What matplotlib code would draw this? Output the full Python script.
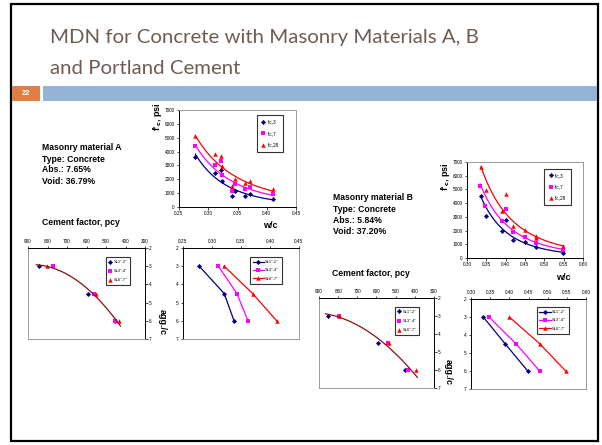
import numpy as np
import matplotlib
matplotlib.use("Agg")
import matplotlib.pyplot as plt
from matplotlib.patches import Rectangle
from matplotlib.lines import Line2D

W, H = 602, 445

# ---------------- data ----------------
series_names = ["f'c,3", "f'c,7", "f'c,28"]
slump_names = ['SL1"-2"', 'SL3"-4"', 'SL6"-7"']

# Material A : strength vs w/c
a_wc = [0.278, 0.312, 0.322, 0.323, 0.340, 0.345, 0.363, 0.371, 0.411]
a_fc3 = [3600, 2450, 2640, 1850, 815, 1175, 815, 960, 600]
a_fc7 = [4410, 3045, 3285, 2300, 1130, 1680, 1295, 1440, 935]
a_fc28 = [5130, 3840, 3690, 2975, 1490, 2040, 1730, 1850, 1295]

# Material B : strength vs w/c
b_wc3 = [0.336, 0.350, 0.390, 0.401, 0.419, 0.449, 0.479, 0.547]
b_fc3 = [4550, 3040, 1995, 2800, 1340, 1190, 780, 390]
b_wc7 = [0.334, 0.347, 0.390, 0.401, 0.419, 0.449, 0.479, 0.547]
b_fc7 = [5230, 3820, 2725, 3600, 1875, 1510, 1095, 585]
b_wc28 = [0.336, 0.350, 0.390, 0.401, 0.419, 0.449, 0.479, 0.479, 0.547]
b_fc28 = [6640, 4940, 3400, 4700, 2310, 2070, 1630, 1460, 850]

# agg./c levels
agg = [3, 4.5, 6]

# Material A : cement factor & w/c per slump
a_cf = [[845, 594, 456], [772, 562, 452], [801, 550, 434]]
a_wcs = [[0.278, 0.321, 0.338], [0.311, 0.343, 0.362], [0.321, 0.370, 0.4115]]

# Material B : cement factor & w/c per slump
b_cf = [[854, 591, 453], [795, 540, 436], [795, 533, 395]]
b_wcs = [[0.332, 0.3895, 0.448], [0.347, 0.418, 0.479], [0.400, 0.480, 0.547]]

colors = ["#000080", "#ff00ff", "#ff0000"]
markers = ["D", "s", "^"]
msizes = [2.6, 3.0, 3.2]
trend_col = "#8b1010"

fig = plt.figure(figsize=(W / 100, H / 100), dpi=100)
fig.patch.set_facecolor("white")


def px_axes(x0, y0, x1, y1):
    return fig.add_axes([x0 / W, 1 - y1 / H, (x1 - x0) / W, (y1 - y0) / H])


def ftext(x, y, s, **kw):
    fig.text(x / W, 1 - y / H, s, **kw)


# ---------- slide decoration ----------
fig.patches.append(Rectangle((11 / W, 1 - 441 / H), (598 - 11) / W, (441 - 4) / H,
                             transform=fig.transFigure, fill=False,
                             edgecolor="black", lw=1.6))
fig.patches.append(Rectangle((12 / W, 1 - 101 / H), 28 / W, 15 / H,
                             transform=fig.transFigure, color="#e07f45", lw=0))
fig.patches.append(Rectangle((43 / W, 1 - 101 / H), (597 - 43) / W, 15 / H,
                             transform=fig.transFigure, color="#93b4d4", lw=0))
ftext(26, 93.5, "22", color="white", fontsize=5.5, fontweight="bold",
      ha="center", va="center", family="Liberation Sans")
ftext(50, 38, "MDN for Concrete with Masonry Materials A, B", color="#6e5c52",
      fontsize=14.7, va="center", family="Lato")
ftext(50, 68, "and Portland Cement", color="#6e5c52",
      fontsize=14.7, va="center", family="Lato")

txt_kw = dict(fontsize=6.2, fontweight="bold", family="Liberation Sans", va="center")
for i, s in enumerate(["Masonry material A", "Type: Concrete", "Abs.: 7.65%", "Void: 36.79%"]):
    ftext(42, 148 + 11 * i, s, **txt_kw)
for i, s in enumerate(["Masonry material B", "Type: Concrete", "Abs.: 5.84%", "Void: 37.20%"]):
    ftext(333, 198 + 11.3 * i, s, **txt_kw)
ftext(42, 222, "Cement factor, pcy", **txt_kw)
ftext(332, 274, "Cement factor, pcy", **txt_kw)

lab_kw = dict(fontsize=6.5, fontweight="bold", family="Liberation Sans")


def style(ax, frame_sides, axis_sides):
    for s in ["left", "right", "top", "bottom"]:
        sp = ax.spines[s]
        if s in axis_sides:
            sp.set_color("black"); sp.set_linewidth(0.7)
        elif s in frame_sides:
            sp.set_color("#9a9a9a"); sp.set_linewidth(0.7)
        else:
            sp.set_visible(False)
    ax.tick_params(labelsize=3.4, length=1.8, width=0.5, pad=1.2, direction="out")
    for lbl in ax.get_xticklabels() + ax.get_yticklabels():
        lbl.set_family("Liberation Sans")


def strength_chart(ax, xs_list, ys_list, xlim, xticks):
    for xs, ys, c, m, ms, name in zip(xs_list, ys_list, colors, markers, msizes, series_names):
        xs = np.array(xs); ys = np.array(ys)
        ax.plot(xs, ys, ls="none", marker=m, color=c, ms=ms, mew=0, label=name)
        b, a = np.polyfit(np.log(xs), np.log(ys), 1)
        xx = np.linspace(xs.min(), xs.max(), 100)
        ax.plot(xx, np.exp(a) * xx ** b, color=c, lw=0.9)
    ax.set_xlim(*xlim)
    ax.set_ylim(0, 7000)
    ax.set_xticks(xticks)
    ax.set_xticklabels([f"{t:.2f}" for t in xticks])
    ax.set_yticks(range(0, 7001, 1000))
    style(ax, ["top", "right"], ["left", "bottom"])


def legend(ax, handles, labels, x, y, fs=3.2, hl=1.0, ls=1.2, bp=0.8):
    lg = ax.legend(handles, labels, loc="upper left", bbox_to_anchor=(x, y),
                   fontsize=fs, frameon=True, fancybox=False, edgecolor="black",
                   handlelength=hl, handletextpad=0.4, borderpad=bp,
                   labelspacing=ls, borderaxespad=0)
    lg.get_frame().set_linewidth(0.8)
    for t in lg.get_texts():
        t.set_family("Liberation Sans")


# ---------- chart 1: A strength ----------
ax1 = px_axes(179, 110, 296, 207)
strength_chart(ax1, [a_wc] * 3, [a_fc3, a_fc7, a_fc28], (0.25, 0.45),
               [0.25, 0.30, 0.35, 0.40, 0.45])
h = [Line2D([], [], ls="none", marker=m, color=c, ms=ms, mew=0) for c, m, ms in zip(colors, markers, msizes)]
legend(ax1, h, series_names, 0.665, 0.945, fs=3.4, hl=1.0, ls=1.35, bp=0.9)
ftext(157, 117, "f'$_\\mathbf{c}$, psi", rotation=90, ha="center", va="center", **lab_kw)
ftext(270, 225, "w/c", ha="center", va="center", **lab_kw)

# ---------- chart 2: B strength ----------
ax2 = px_axes(467, 162, 583, 258)
strength_chart(ax2, [b_wc3, b_wc7, b_wc28], [b_fc3, b_fc7, b_fc28], (0.30, 0.60),
               [0.30, 0.35, 0.40, 0.45, 0.50, 0.55, 0.60])
legend(ax2, h, series_names, 0.665, 0.93, fs=3.4, hl=1.0, ls=1.35, bp=0.9)
ftext(445, 177, "f'$_\\mathbf{c}$, psi", rotation=90, ha="center", va="center", **lab_kw)
ftext(563, 278, "w/c", ha="center", va="center", **lab_kw)


# ---------- cement factor charts ----------
def cement_chart(ax, cf):
    allx, ally = [], []
    for xs, c, m, ms, name in zip(cf, colors, markers, msizes, slump_names):
        ax.plot(xs, agg, ls="none", marker=m, color=c, ms=ms, mew=0, label=name)
        allx += xs; ally += agg
    allx = np.array(allx); ally = np.array(ally)
    p = np.polyfit(allx, ally, 2)
    xx = np.linspace(allx.max() + 12, allx.min() - 8, 100)
    ax.plot(xx, np.polyval(p, xx), color=trend_col, lw=0.9)
    ax.set_xlim(900, 300)
    ax.set_ylim(7, 2)
    ax.set_xticks(range(900, 299, -100))
    ax.set_yticks(range(2, 8))
    ax.xaxis.tick_top()
    ax.yaxis.tick_right()
    style(ax, ["left", "bottom"], ["top", "right"])


def wc_chart(ax, wcs, xlim, xticks):
    for xs, c, m, ms, name in zip(wcs, colors, markers, msizes, slump_names):
        ax.plot(xs, agg, ls="-", lw=0.9, marker=m, color=c, ms=ms, mew=0, label=name)
    ax.set_xlim(*xlim)
    ax.set_ylim(7, 2)
    ax.set_xticks(xticks)
    ax.set_xticklabels([f"{t:.2f}" for t in xticks])
    ax.set_yticks(range(2, 8))
    ax.xaxis.tick_top()
    style(ax, ["right", "bottom"], ["top", "left"])


ax3 = px_axes(28, 248, 145, 339)
cement_chart(ax3, a_cf)
hm = [Line2D([], [], ls="none", marker=m, color=c, ms=ms, mew=0) for c, m, ms in zip(colors, markers, msizes)]
legend(ax3, hm, slump_names, 0.667, 0.90, fs=2.9, hl=0.8, ls=1.3, bp=0.7)

ax4 = px_axes(183, 248, 299, 339)
wc_chart(ax4, a_wcs, (0.25, 0.45), [0.25, 0.30, 0.35, 0.40, 0.45])
hl = [Line2D([], [], ls="-", lw=0.9, marker=m, color=c, ms=ms, mew=0) for c, m, ms in zip(colors, markers, msizes)]
legend(ax4, hl, slump_names, 0.58, 0.90, fs=2.9, hl=2.6, ls=1.1, bp=0.7)
ftext(162, 322, "agg./c", rotation=270, ha="center", va="center", **lab_kw)

ax5 = px_axes(319, 298, 434, 388)
cement_chart(ax5, b_cf)
legend(ax5, hm, slump_names, 0.66, 0.90, fs=2.9, hl=0.8, ls=1.3, bp=0.7)

ax6 = px_axes(471, 299, 586, 389)
wc_chart(ax6, b_wcs, (0.30, 0.60), [0.30, 0.35, 0.40, 0.45, 0.50, 0.55, 0.60])
legend(ax6, hl, slump_names, 0.57, 0.91, fs=2.9, hl=2.8, ls=1.1, bp=0.7)
ftext(448, 372, "agg./c", rotation=270, ha="center", va="center", **lab_kw)

fig.savefig("out.png", dpi=100, facecolor="white")
